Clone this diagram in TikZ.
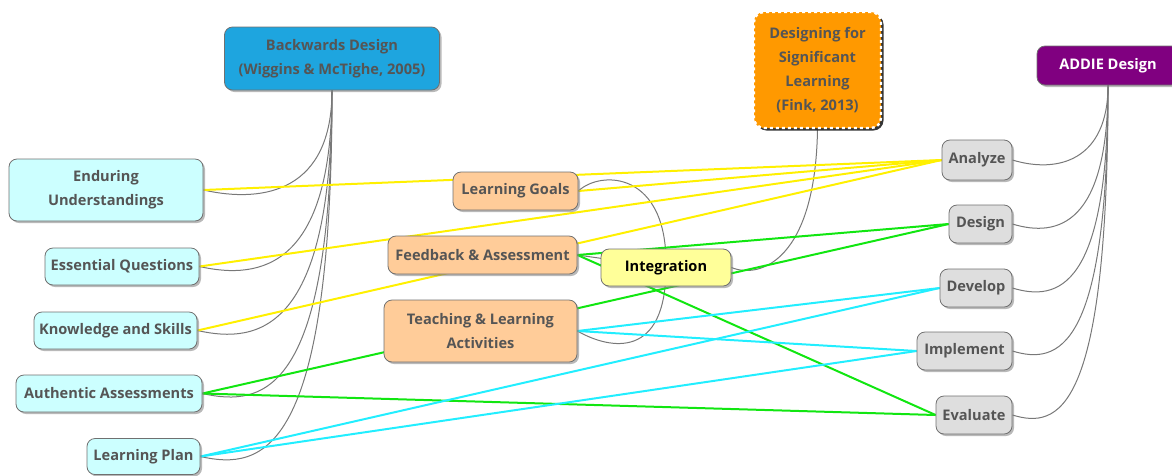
\documentclass[tikz,border=0pt]{standalone}
\usepackage{fontspec}
\setmainfont{Open Sans}
\usetikzlibrary{calc,shadows,backgrounds}

\definecolor{txtgrey}{HTML}{555555}
\definecolor{boxline}{HTML}{707070}
\definecolor{treegrey}{HTML}{787878}
\definecolor{bdblue}{HTML}{1EA5DF}
\definecolor{finkorange}{HTML}{FF9900}
\definecolor{addiepurple}{HTML}{800080}
\definecolor{lightcyan}{HTML}{CCFFFF}
\definecolor{peach}{HTML}{FFCC99}
\definecolor{paleyellow}{HTML}{FFFF99}
\definecolor{lightgrey}{HTML}{DEDEDE}
\definecolor{linkyellow}{HTML}{FFF000}
\definecolor{linkgreen}{HTML}{11E611}
\definecolor{linkcyan}{HTML}{22EEFF}

\begin{document}
\begin{tikzpicture}[x=1pt,y=-1pt,
  box/.style={rounded corners=8pt, draw=boxline, line width=0.8pt,
    align=center, inner sep=0pt, text=txtgrey,
    font=\bfseries\fontsize{14.6}{24}\selectfont,
    drop shadow={shadow xshift=2pt, shadow yshift=-2pt, fill=black!50, opacity=0.55}},
  bdbox/.style={box, fill=bdblue},
  finkbox/.style={box, fill=finkorange, draw=white, line width=2.4pt,
    dash pattern=on 3pt off 3pt, rounded corners=10pt,
    drop shadow={shadow xshift=2.5pt, shadow yshift=-2.5pt, fill=black!85, opacity=0.9}},
  addiebox/.style={box, fill=addiepurple, text=white},
  leftbox/.style={box, fill=lightcyan},
  midbox/.style={box, fill=peach},
  intbox/.style={box, fill=paleyellow, text=black},
  phasebox/.style={box, fill=lightgrey},
  tree/.style={draw=treegrey, line width=1pt},
  ylink/.style={draw=linkyellow, line width=2pt},
  glink/.style={draw=linkgreen, line width=2pt},
  clink/.style={draw=linkcyan, line width=2pt}]

\useasboundingbox (0,0) rectangle (1172,475);

% --- frameworks
\node[bdbox, minimum width=215pt, minimum height=63pt] (bd) at (332,58.5)
  {Backwards Design\\(Wiggins \& McTighe, 2005)};
\node[finkbox, minimum width=127pt, minimum height=116pt] (fink) at (817.5,70)
  {Designing for\\Significant\\Learning\\(Fink, 2013)};
\node[addiebox, minimum width=142pt, minimum height=39pt] (addie) at (1108,65.5)
  {ADDIE Design};

% --- backwards design elements
\node[leftbox, minimum width=194pt, minimum height=62pt] (eu) at (106,190)
  {Enduring\\Understandings};
\node[leftbox, minimum width=154pt, minimum height=37pt] (eq) at (122,266.5)
  {Essential Questions};
\node[leftbox, minimum width=163pt, minimum height=37pt] (ks) at (115.5,330.5)
  {Knowledge and Skills};
\node[leftbox, minimum width=186pt, minimum height=37pt] (aa) at (109,393.5)
  {Authentic Assessments};
\node[leftbox, minimum width=113pt, minimum height=36pt] (lp) at (143.5,456.5)
  {Learning Plan};

% --- significant learning elements
\node[midbox, minimum width=125pt, minimum height=38pt] (lg) at (515.5,191)
  {Learning Goals};
\node[midbox, minimum width=189pt, minimum height=38pt] (fb) at (482.5,255)
  {Feedback \& Assessment};
\node[midbox, minimum width=193pt, minimum height=62pt] (tl) at (480.5,331)
  {Teaching \& Learning\\Activities};
\node[intbox, minimum width=130pt, minimum height=37pt] (integ) at (666,267.5)
  {Integration};

% --- ADDIE phases
\node[phasebox, minimum width=70pt, minimum height=40pt] (an) at (977,160) {Analyze};
\node[phasebox, minimum width=63pt, minimum height=38pt] (de) at (980.5,224) {Design};
\node[phasebox, minimum width=72pt, minimum height=38pt] (dv) at (976,288) {Develop};
\node[phasebox, minimum width=95pt, minimum height=38pt] (im) at (964.5,351) {Implement};
\node[phasebox, minimum width=76pt, minimum height=38pt] (ev) at (974,415) {Evaluate};

\begin{scope}[on background layer]
  % tree branches: Backwards Design
  \foreach \c in {eu,eq,ks,aa,lp}
    \draw[tree] (bd.south) .. controls (bd.south |- \c.east) and ($(\c.east)+(62,14)$) .. (\c.east);
  % tree branches: ADDIE
  \foreach \c in {an,de,dv,im,ev}
    \draw[tree] (addie.south) .. controls (addie.south |- \c.east) and ($(\c.east)+(46,14)$) .. (\c.east);
  % tree branches: Fink
  \draw[tree] (fink.south) .. controls ($(fink.south |- integ.east)+(-2,-8)$) and ($(integ.east)+(29,12)$) .. (integ.east);
  \draw[tree] (integ.center) .. controls ($(integ.center)+(2,-97)$) and ($(lg.east)+(22,-21)$) .. (lg.east);
  \draw[tree] (integ.center) -- (fb.east);
  \draw[tree] (integ.center) .. controls ($(integ.center)+(0,92)$) and ($(tl.east)+(33,19)$) .. (tl.east);

  % cross links: analysis
  \draw[ylink] (eu.east) -- (an.west);
  \draw[ylink] (eq.east) -- (an.west);
  \draw[ylink] (ks.east) -- (an.west);
  \draw[ylink] (lg.east) -- (an.west);
  % cross links: design and evaluation
  \draw[glink] (aa.east) -- (de.west);
  \draw[glink] (aa.east) -- (ev.west);
  \draw[glink] (fb.east) -- (de.west);
  \draw[glink] (fb.east) -- (ev.west);
  % cross links: development and implementation
  \draw[clink] (tl.east) -- (dv.west);
  \draw[clink] (tl.east) -- (im.west);
  \draw[clink] (lp.east) -- (dv.west);
  \draw[clink] (lp.east) -- (im.west);
\end{scope}
\end{tikzpicture}
\end{document}
